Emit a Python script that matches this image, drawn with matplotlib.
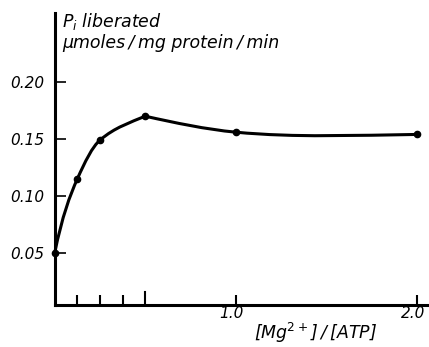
import numpy as np
import matplotlib
matplotlib.use("Agg")
import matplotlib.pyplot as plt
import matplotlib.transforms as mtransforms
from matplotlib.path import Path
from matplotlib.patches import PathPatch

ratio = [0.0, 0.125, 0.25, 0.5, 1.0, 2.0]
pi_rate = [0.050, 0.115, 0.149, 0.170, 0.156, 0.154]
y_ticks = [0.05, 0.10, 0.15, 0.20]
y_tick_labels = ["0.05", "0.10", "0.15", "0.20"]
x_major = [1.0, 2.0]
x_major_labels = ["1.0", "2.0"]
x_minor = [0.125, 0.25, 0.375]
x_mid = [0.5]

W, H = 429, 347
fig = plt.figure(figsize=(W / 100, H / 100), dpi=100)
ax = fig.add_axes([54.7 / W, 1 - 305 / H, 1 - 54.7 / W, (305 - 13) / H])
ax.set_xlim(0, (W - 54.7) / 181)
ax.set_ylim((310 - 305) / 1140, (310 - 13) / 1140)

for s in ["top", "right"]:
    ax.spines[s].set_visible(False)
for s in ["left", "bottom"]:
    ax.spines[s].set_linewidth(2.2)


def hermite_path(xs, ys, m_start, m_end, interior="fc"):
    xs = np.asarray(xs, float)
    ys = np.asarray(ys, float)
    h = np.diff(xs)
    d = np.diff(ys) / h
    m = np.zeros_like(ys)
    for k in range(1, len(xs) - 1):
        if interior == "mean":
            m[k] = 0.5 * (d[k - 1] + d[k])
        elif d[k - 1] * d[k] <= 0:
            m[k] = 0.0
        else:
            w1 = 2 * h[k] + h[k - 1]
            w2 = h[k] + 2 * h[k - 1]
            m[k] = (w1 + w2) / (w1 / d[k - 1] + w2 / d[k])
    m[0] = m_start(d)
    m[-1] = m_end(d)
    verts = [(xs[0], ys[0])]
    codes = [Path.MOVETO]
    for k in range(len(xs) - 1):
        verts += [(xs[k] + h[k] / 3, ys[k] + m[k] * h[k] / 3),
                  (xs[k + 1] - h[k] / 3, ys[k + 1] - m[k + 1] * h[k] / 3),
                  (xs[k + 1], ys[k + 1])]
        codes += [Path.CURVE4] * 3
    return Path(verts, codes)


# rising part (0 .. 0.5) and plateau part (0.5 .. 2.0), corner at the maximum
p1 = hermite_path(ratio[:4], pi_rate[:4], lambda d: d[0] * 1.5, lambda d: d[-1] * 0.8)
p2 = hermite_path(ratio[3:], pi_rate[3:], lambda d: d[0] * 1.25, lambda d: -d[-1],
                  interior="mean")
for p in (p1, p2):
    ax.add_patch(PathPatch(p, fill=False, lw=2.2, color="black",
                           capstyle="round", clip_on=False))
ax.plot(ratio, pi_rate, "o", color="black", ms=4.5, clip_on=False)

font = dict(family="DejaVu Sans", style="italic", size=11)
tfont = dict(family="DejaVu Sans", style="italic", size=12.5)
ax.set_yticks(y_ticks)
ax.set_yticklabels(y_tick_labels, **font)
ax.tick_params(axis="y", direction="in", length=8, width=1.2, pad=7.5)
ax.set_xticks(x_major)
ax.set_xticklabels(x_major_labels, **font)
ax.set_xticks(x_minor, minor=True)
ax.tick_params(axis="x", which="both", direction="in", width=1.5, pad=1)
ax.tick_params(axis="x", which="major", length=7.5)
ax.tick_params(axis="x", which="minor", length=7)
for xv in x_mid:
    ax.plot([xv, xv], [ax.get_ylim()[0], ax.get_ylim()[0] + 0.011], color="black", lw=1.5)
off = mtransforms.ScaledTranslation(-4 / 100, 0, fig.dpi_scale_trans)
for lab in ax.get_xticklabels():
    lab.set_transform(lab.get_transform() + off)

fig.text(62 / W, 1 - 22 / H, r"$P_i$ liberated", ha="left", va="center", **tfont)
fig.text(62 / W, 1 - 43 / H, "μmoles\u2009/\u2009mg protein\u2009/\u2009min", ha="left", va="center", **tfont)
fig.text(316 / W, 1 - 333 / H, "[Mg$^{2+}$]\u2009/\u2009[ATP]", ha="center", va="center", **tfont)

fig.savefig("out.png", dpi=100)
